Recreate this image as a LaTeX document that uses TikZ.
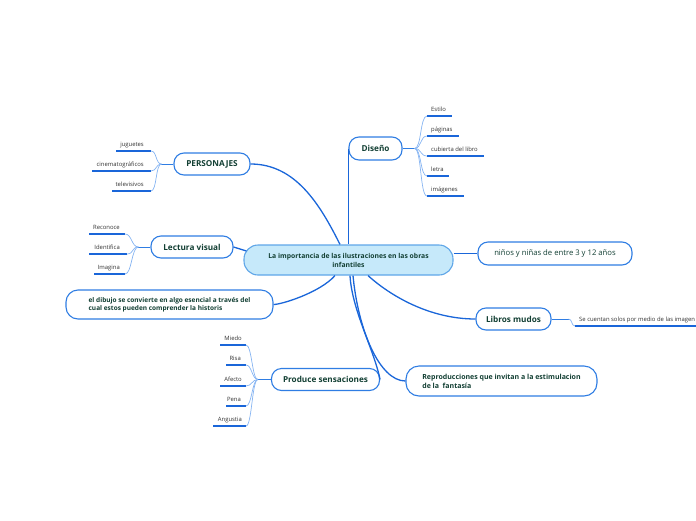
\documentclass[tikz,border=0pt]{standalone}
\usepackage{fontspec}
\setmainfont{Open Sans}
\usetikzlibrary{calc}
\definecolor{mainL}{HTML}{1A66D9}
\definecolor{boxB}{HTML}{2F7DE3}
\definecolor{txtG}{HTML}{123F33}
\definecolor{leafT}{HTML}{333333}
\definecolor{subL}{HTML}{86B4F2}
\definecolor{cenF}{HTML}{C6E9FA}
\definecolor{cenB}{HTML}{5FA6E8}
\newcommand\leafRt[5]{%
  \coordinate (#1a) at (#2,#4); \coordinate (#1b) at (#3,#4);
  \draw[uline] (#1a) -- (#1b);
  \node[leaf,anchor=base west] (#1) at (#2+4,#4-5) {#5};}
\newcommand\leafLt[6]{%
  \coordinate (#1a) at (#2,#4); \coordinate (#1b) at (#3,#4);
  \draw[uline] (#1a) -- (#1b);
  \node[leaf,anchor=base east] (#1) at (#3-#6,#4-4.5) {#5};}
\begin{document}
\begin{tikzpicture}[x=1pt,y=-1pt,
  central/.style={draw=cenB, fill=cenF, line width=1.1pt, rounded corners=14pt,
    minimum width=209pt, minimum height=30pt, inner sep=0pt, align=center,
    text=txtG, font=\bfseries\fontsize{6.8}{9}\selectfont},
  branch/.style={draw=boxB, fill=white, line width=1.1pt, rounded corners=10pt,
    inner sep=0pt, text=txtG, font=\bfseries\fontsize{8.2}{10}\selectfont},
  leaf/.style={inner sep=0pt, text=leafT, font=\fontsize{5.9}{7}\selectfont},
  uline/.style={draw=mainL, line width=1.4pt},
  mainC/.style={draw=mainL, line width=1.3pt},
  stub/.style={draw=boxB, line width=1pt},
  sub/.style={draw=subL, line width=0.7pt}]
\useasboundingbox (0,0) rectangle (696,520);

\node[central] (c) at (348.5,260) {La importancia de las ilustraciones en las obras\\infantiles};

\node[branch, minimum width=53pt, minimum height=23pt] (dis) at (375.5,148.5) {Diseño};
\node[branch, minimum width=76pt, minimum height=22pt] (pers) at (212,164) {PERSONAJES};
\node[branch, minimum width=82pt, minimum height=22pt] (lec) at (192,247) {Lectura visual};
\node[branch, minimum width=207pt, minimum height=29pt, align=left, rounded corners=12pt,
  font=\bfseries\fontsize{6.5}{8}\selectfont] (dib) at (169.5,304.5)
  {el dibujo se convierte en algo esencial a través del\\cual estos pueden comprender la historis};
\node[branch, minimum width=108pt, minimum height=22pt] (prod) at (325.5,379.5) {Produce sensaciones};
\node[branch, minimum width=154pt, minimum height=23pt, font=\fontsize{7.7}{9}\selectfont] (nin) at (555,253.5) {niños y niñas de entre 3 y 12 años};
\node[branch, minimum width=75pt, minimum height=22pt] (lib) at (513.5,319) {Libros mudos};
\node[branch, minimum width=191pt, minimum height=30pt, align=left, rounded corners=13pt,
  font=\bfseries\fontsize{7}{9}\selectfont] (rep) at (501.5,381)
  {Reproducciones que invitan a la estimulacion\\de la\ \ fantasía};

% main connectors
\draw[mainC] (pers.east) .. controls +(45,0) and +(-20,-40) .. ([xshift=-8.5pt]c.north);
\draw[mainC] (dis.west) -- (dis.west |- c.north);
\draw[mainC] (lec.east) -- ([shift={(3pt,9pt)}]c.west);
\draw[mainC] ([xshift=-13.5pt]c.south) .. controls +(-15,17) and +(8,0) .. (dib.east);
\draw[mainC] ([xshift=1.5pt]c.south) .. controls +(2,35) and +(-6,-30) .. (prod.east);
\draw[mainC] ([xshift=4.5pt]c.south) .. controls +(5,54) and +(-26,0) .. (rep.west);
\draw[mainC] ([xshift=19.5pt]c.south) .. controls +(22,20) and +(-46,0) .. (lib.west);
\draw[mainC] ([yshift=6.5pt]c.east) -- (nin.west);

% Diseño leaves
\leafRt{d1}{427}{452}{116}{Estilo}
\leafRt{d2}{427}{459}{136}{páginas}
\leafRt{d3}{427}{484}{156}{cubierta del libro}
\leafRt{d4}{427}{449}{176}{letra}
\leafRt{d5}{427}{464}{196}{imágenes}
\draw[stub] (dis.east) -- ++(12,0) coordinate (dj);
\foreach \n in {d1,d2,d3,d4,d5} \draw[sub] (dj) .. controls +(7,0) and +(-7,0) .. (\n a);

% PERSONAJES leaves
\leafLt{p1}{116}{151}{151}{juguetes}{7}
\leafLt{p2}{92}{151}{171}{cinematográficos}{7}
\leafLt{p3}{112}{151}{191}{televisivos}{7}
\draw[stub] (pers.west) -- ++(-12,0) coordinate (pj);
\foreach \n in {p1,p2,p3} \draw[sub] (pj) .. controls +(-6,0) and +(6,0) .. (\n b);

% Lectura visual leaves
\leafLt{l1}{89}{125}{234}{Reconoce}{5}
\leafLt{l2}{89}{127}{254}{Identifica}{7}
\leafLt{l3}{94}{125}{274}{Imagina}{5}
\draw[stub] (lec.west) -- ++(-12,0) coordinate (lj);
\foreach \n in {l1,l2,l3} \draw[sub] (lj) .. controls +(-7,0) and +(7,0) .. (\n b);

% Produce sensaciones leaves
\leafLt{s1}{220}{246}{345}{Miedo}{4}
\leafLt{s2}{226}{246}{365}{Risa}{5}
\leafLt{s3}{220}{246}{386}{Afecto}{4}
\leafLt{s4}{226}{246}{406}{Pena}{5}
\leafLt{s5}{213}{246}{426}{Angustia}{4}
\draw[stub] (prod.west) -- ++(-13,0) coordinate (sj);
\foreach \n in {s1,s2,s3,s4,s5} \draw[sub] (sj) .. controls +(-6,0) and +(6,0) .. (\n b);

% Libros mudos leaf
\leafRt{m1}{575}{696}{326}{Se cuentan solos por medio de las imagen}
\draw[stub] (lib.east) -- ++(17,0) coordinate (mj);
\draw[sub] (mj) .. controls +(4,0) and +(-4,0) .. (m1a);
\end{tikzpicture}
\end{document}
